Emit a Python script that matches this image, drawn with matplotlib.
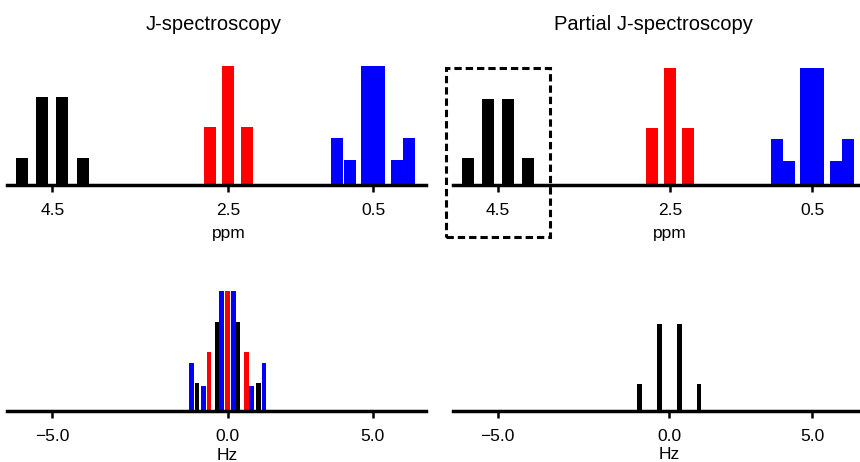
import numpy as np
import matplotlib
matplotlib.use("Agg")
import matplotlib.pyplot as plt
from matplotlib.patches import Rectangle
from matplotlib.ticker import FuncFormatter

plt.rcParams['font.family'] = ['Liberation Sans', 'DejaVu Sans']

# ---- chemical-shift dimension (ppm) ----
shift_ticks = [4.5, 2.5, 0.5]
black_ppm = [4.845, 4.615, 4.385, 4.155]
red_ppm = [2.71, 2.50, 2.29]
blue_ppm = [0.91, 0.77, 0.568, 0.432, 0.23, 0.09]

# ---- J dimension (Hz) ----
j_ticks = [-5.0, 0.0, 5.0]
black_hz = [-0.87, -0.29, 0.29, 0.87]
red_hz = [-0.53, 0.0, 0.53]
blue_hz = [-1.03, -0.68, -0.17, 0.17, 0.68, 1.03]

# ---- relative line intensities ----
black_int = [0.23, 0.74, 0.74, 0.23]
red_int = [0.49, 1.0, 0.49]
blue_int = [0.40, 0.21, 1.0, 1.0, 0.21, 0.40]

W, H = 860, 462
fig = plt.figure(figsize=(W / 100, H / 100), dpi=100)

BLACK, RED, BLUE = "#000000", "#ff0000", "#0000ff"


def panel(x0, x1, ybase, ytop):
    return fig.add_axes([x0 / W, 1 - ybase / H, (x1 - x0) / W, (ybase - ytop) / H])


def warp_scale(ax, ticks, tick_px, slope, half, px_range):
    """Piecewise-linear axis: uniform scale near each tick, gaps compressed."""
    t = np.asarray(ticks, float)
    p = np.asarray(tick_px, float)
    order = np.argsort(t)
    t, p = t[order], p[order]
    d = 1.0 if p[-1] > p[0] else -1.0
    far = 1e3
    vals = [t[0] - far]
    pix = [p[0] - d * slope * far]
    for ti, pi in zip(t, p):
        vals += [ti - half, ti + half]
        pix += [pi - d * slope * half, pi + d * slope * half]
    vals.append(t[-1] + far)
    pix.append(p[-1] + d * slope * far)
    vals = np.array(vals)
    u = d * np.array(pix)

    def fwd(x):
        return np.interp(x, vals, u)

    def inv(y):
        return np.interp(y, u, vals)

    ax.set_xscale('function', functions=(fwd, inv))
    ax.set_xlim(inv(d * px_range[0]), inv(d * px_range[1]))
    return inv


def style(ax, ticks, xlabel, labelpad):
    for s in ("left", "top", "right"):
        ax.spines[s].set_visible(False)
    ax.spines["bottom"].set_linewidth(2.5)
    ax.set_yticks([])
    ax.set_ylim(0, 1.0)
    ax.set_xticks(ticks)
    ax.xaxis.set_major_formatter(
        FuncFormatter(lambda v, pos: f"{v:.1f}".replace("-", "\u2212")))
    ax.tick_params(axis="x", direction="out", length=5, width=1.8,
                   pad=8, labelsize=12.5)
    ax.set_xlabel(xlabel, fontsize=12.5, labelpad=labelpad)
    # centre the axis label under the middle tick
    mid = ticks[len(ticks) // 2]
    xd = ax.transData.transform((mid, 0))[0]
    x_frac = ax.transAxes.inverted().transform((xd, 0))[0]
    ax.xaxis.label.set_x(x_frac)
    ax.patch.set_alpha(0)


PPM_W = 0.137
HZ_W = 0.13

# ---------- top left: J-spectroscopy, chemical shift projection ----------
ax = panel(7, 426, 185.3, 66)
warp_scale(ax, shift_ticks, [52.3, 228.3, 373.3], 88, 0.6, (7, 426))
ax.bar(black_ppm, black_int, width=PPM_W, color=BLACK, linewidth=0)
ax.bar(red_ppm, red_int, width=PPM_W, color=RED, linewidth=0)
ax.bar(blue_ppm, blue_int, width=PPM_W, color=BLUE, linewidth=0)
style(ax, shift_ticks, "ppm", 5.5)

# ---------- top right: partial J-spectroscopy, chemical shift ----------
ax = panel(453, 862, 185.3, 68.3)
warp_scale(ax, shift_ticks, [497.7, 670, 812.3], 87, 0.6, (453, 862))
ax.bar(black_ppm, black_int, width=PPM_W, color=BLACK, linewidth=0)
ax.bar(red_ppm, red_int, width=PPM_W, color=RED, linewidth=0)
ax.bar(blue_ppm, blue_int, width=PPM_W, color=BLUE, linewidth=0)
style(ax, shift_ticks, "ppm", 5.5)
# selected multiplet
ax.add_patch(Rectangle((5.1, -0.44), 3.9 - 5.1, 1.44, fill=False,
                       edgecolor=BLACK, linewidth=2.2,
                       linestyle=(0, (2.4, 1.3)), clip_on=False))

# ---------- bottom left: J dimension, all multiplets ----------
ax = panel(7, 426, 411, 291.3)
warp_scale(ax, j_ticks, [52.3, 227.7, 372.7], 35.2, 1.5, (7, 426))
ax.bar(black_hz, black_int, width=HZ_W, color=BLACK, linewidth=0)
ax.bar(red_hz, red_int, width=HZ_W, color=RED, linewidth=0)
ax.bar(blue_hz, blue_int, width=HZ_W, color=BLUE, linewidth=0)
style(ax, j_ticks, "Hz", 2.5)

# ---------- bottom right: J dimension, selected multiplet only ----------
ax = panel(453, 862, 410.5, 293.5)
warp_scale(ax, j_ticks, [497.7, 669.3, 812.3], 34.4, 1.5, (453, 862))
ax.bar(black_hz, black_int, width=HZ_W, color=BLACK, linewidth=0)
style(ax, j_ticks, "Hz", 2.5)

# ---------- column titles ----------
fig.text(214 / W, 1 - 30 / H, "J-spectroscopy", ha="center", va="baseline",
         fontsize=14.5)
fig.text(653 / W, 1 - 30 / H, "Partial J-spectroscopy", ha="center",
         va="baseline", fontsize=14.5)

fig.savefig("out.png", dpi=100)
